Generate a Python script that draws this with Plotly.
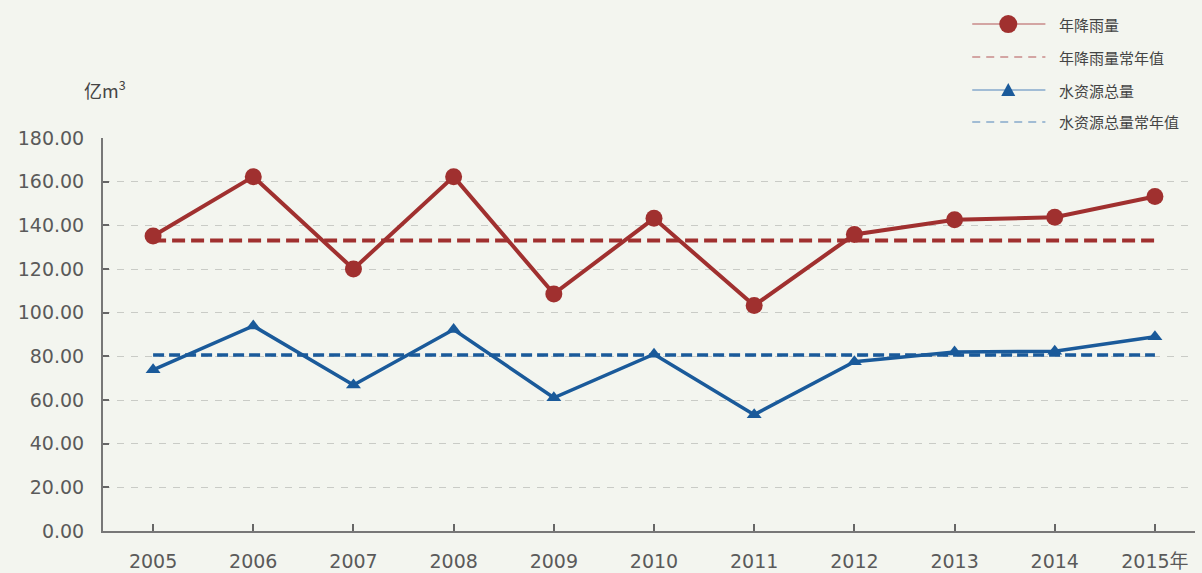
import plotly.graph_objects as go

# 年降雨量与水资源总量（亿m³），2005—2015年
years = [2005, 2006, 2007, 2008, 2009, 2010, 2011, 2012, 2013, 2014, 2015]
year_labels = ["2005", "2006", "2007", "2008", "2009", "2010", "2011",
               "2012", "2013", "2014", "2015年"]
rainfall = [135.1, 162.3, 120.0, 162.3, 108.6, 143.2, 103.3, 135.8, 142.6, 143.7, 153.2]
rainfall_normal = 133.0
water_total = [73.8, 93.9, 66.9, 92.3, 61.0, 81.0, 53.3, 77.5, 82.0, 82.3, 89.0]
water_normal = 80.6
y_ticks = [0, 20, 40, 60, 80, 100, 120, 140, 160, 180]

RED = "#a0302f"
BLUE = "#1a5a9a"
RED_LIGHT = "#c98a8a"
BLUE_LIGHT = "#86a9cc"
BG = "#f3f5ef"
FONT = "DejaVu Sans, Noto Sans CJK SC, sans-serif"
CJK_FONT = "Noto Sans CJK SC, sans-serif"
TEXT = "#5a5a5a"

fig = go.Figure()

fig.add_trace(go.Scatter(
    x=years, y=[rainfall_normal] * len(years), mode="lines",
    line=dict(color=RED, width=4, dash="13px,6px"), name="年降雨量常年值",
))
fig.add_trace(go.Scatter(
    x=years, y=[water_normal] * len(years), mode="lines",
    line=dict(color=BLUE, width=3.5, dash="11px,5px"), name="水资源总量常年值",
))
fig.add_trace(go.Scatter(
    x=years, y=rainfall, mode="lines+markers",
    line=dict(color=RED, width=4),
    marker=dict(symbol="circle", size=17, color=RED),
    name="年降雨量",
))
fig.add_trace(go.Scatter(
    x=years, y=water_total, mode="lines+markers",
    line=dict(color=BLUE, width=3.5),
    marker=dict(symbol="triangle-up", size=13, color=BLUE),
    name="水资源总量",
))

# Custom legend in the top-right corner
legend_items = [
    ("年降雨量", RED_LIGHT, "solid", "circle", RED),
    ("年降雨量常年值", RED_LIGHT, "dash", None, None),
    ("水资源总量", BLUE_LIGHT, "solid", "triangle", BLUE),
    ("水资源总量常年值", BLUE_LIGHT, "dash", None, None),
]
legend_y = [1.290, 1.206, 1.122, 1.041]
lx0, lx1, lxm, ltx = 0.796, 0.863, 0.829, 0.874
shapes = []
annotations = []
for (label, lcolor, ldash, sym, mcolor), ly in zip(legend_items, legend_y):
    shapes.append(dict(type="line", xref="paper", yref="paper",
                       x0=lx0, x1=lx1, y0=ly, y1=ly,
                       line=dict(color=lcolor, width=1.5,
                                 dash="8px,6px" if ldash == "dash" else "solid")))
    if sym == "circle":
        shapes.append(dict(type="circle", xref="paper", yref="paper",
                           xsizemode="pixel", ysizemode="pixel",
                           xanchor=lxm, yanchor=ly, x0=-9, x1=9, y0=-9, y1=9,
                           fillcolor=mcolor, line=dict(width=0)))
    elif sym == "triangle":
        shapes.append(dict(type="path", xref="paper", yref="paper",
                           xsizemode="pixel", ysizemode="pixel",
                           xanchor=lxm, yanchor=ly,
                           path="M -7,-6 L 7,-6 L 0,7 Z",
                           fillcolor=mcolor, line=dict(width=0)))
    annotations.append(dict(text=label, xref="paper", yref="paper",
                            x=ltx, y=ly, xanchor="left", yanchor="middle",
                            showarrow=False,
                            font=dict(family=CJK_FONT, size=15, color="#444444")))

annotations.append(dict(text="亿m<sup>3</sup>", xref="paper", yref="paper",
                        x=-0.019, y=1.124, xanchor="left", yanchor="middle",
                        showarrow=False,
                        font=dict(family=CJK_FONT, size=18, color="#444444")))

fig.update_layout(
    width=1202, height=573,
    margin=dict(l=103, r=7, t=138, b=42),
    paper_bgcolor=BG, plot_bgcolor=BG,
    showlegend=False,
    font=dict(family=FONT, size=19, color=TEXT),
    shapes=shapes, annotations=annotations,
)
fig.update_xaxes(
    range=[2004.5, 2015.4], tickvals=years, ticktext=year_labels,
    showgrid=False, zeroline=False, automargin=False,
    showline=True, linecolor="#777777", linewidth=2,
    ticks="inside", ticklen=7, tickwidth=2, tickcolor="#666666",
    ticklabelstandoff=12,
    tickfont=dict(family=FONT, size=19, color=TEXT),
)
fig.update_yaxes(
    range=[0, 180], tickvals=y_ticks, tickformat=".2f",
    showgrid=True, gridcolor="#c9cbc6", griddash="7px,7px", gridwidth=1,
    zeroline=False, automargin=False,
    showline=True, linecolor="#777777", linewidth=2,
    ticks="inside", ticklen=6, tickwidth=2, tickcolor="#666666",
    ticklabelstandoff=13,
    tickfont=dict(family=FONT, size=19, color=TEXT),
)

fig.write_html("out.html")
